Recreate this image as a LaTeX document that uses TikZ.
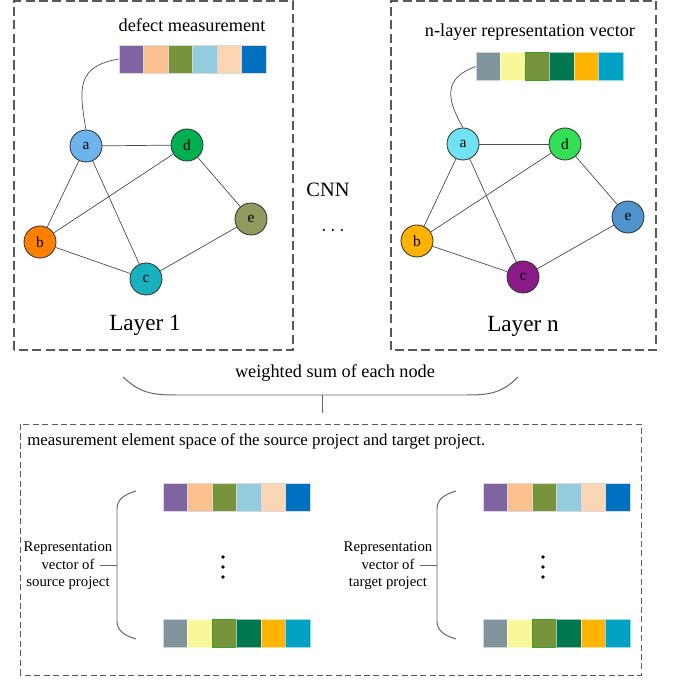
\documentclass[tikz,border=0pt]{standalone}
\usepackage{fontspec}
\setmainfont{Liberation Serif}
\usepackage{tikz}
\usepackage{xcolor}

% colours of the measurement vector
\definecolor{mpurple}{HTML}{8064A2}
\definecolor{mpeach}{HTML}{FAC090}
\definecolor{molive}{HTML}{77933C}
\definecolor{mblue}{HTML}{93CDDD}
\definecolor{mcream}{HTML}{FCD5B5}
\definecolor{mdeep}{HTML}{0070C0}
% colours of the representation vector
\definecolor{rgray}{HTML}{7F959B}
\definecolor{ryellow}{HTML}{F8F89A}
\definecolor{rolive}{HTML}{77933C}
\definecolor{rgreen}{HTML}{00774F}
\definecolor{ramber}{HTML}{FFB400}
\definecolor{rteal}{HTML}{00A2C3}
% node colours, layer 1 and layer n
\definecolor{la}{HTML}{6CB4EE}
\definecolor{lb}{HTML}{FF8000}
\definecolor{lc}{HTML}{17B2BE}
\definecolor{ld}{HTML}{00B050}
\definecolor{le}{HTML}{8F9A5E}
\definecolor{na}{HTML}{6FE3F3}
\definecolor{nb}{HTML}{FFB300}
\definecolor{nc}{HTML}{8B1A89}
\definecolor{nd}{HTML}{33E055}
\definecolor{ne}{HTML}{4F94CD}

\tikzset{
  gnode/.style={circle, draw=black!80, line width=0.6pt, minimum size=0.8cm, inner sep=0pt, font=\fontsize{11}{13}\selectfont},
  cell/.style={rectangle, draw=white!85!black, line width=0.4pt, minimum width=0.6125cm, minimum height=0.7cm, inner sep=0pt},
  edge/.style={draw=black!70, line width=0.5pt},
  layerbox/.style={draw=black!65, line width=0.9pt, dash pattern=on 6.5pt off 3pt},
  spacebox/.style={draw=black!65, line width=0.7pt, dash pattern=on 4.3pt off 2.4pt},
  brace/.style={draw=black!60, line width=0.7pt},
}

% #1 name prefix, #2 left x, #3 centre y
\newcommand{\measvec}[3]{%
  \foreach \col [count=\i] in {mpurple,mpeach,molive,mblue,mcream,mdeep}
    \node[cell, fill=\col] (#1\i) at ({#2+(\i-0.5)*0.6125},#3) {};}
\newcommand{\reprvec}[3]{%
  \foreach \col/\rim [count=\i] in {rgray/white,ryellow/white,rolive/green!70!black,rgreen/white,ramber/white,rteal/white}
    \node[cell, fill=\col, draw=\rim!60!\col] (#1\i) at ({#2+(\i-0.5)*0.6125},#3) {};}

\begin{document}
\begin{tikzpicture}
\useasboundingbox (0,0) rectangle (16.9,17.025);

% layer boxes
\draw[layerbox] (0.35,8.275) rectangle (7.325,17.0);
\draw[layerbox] (9.775,8.275) rectangle (16.4,17.0);

% layer 1
\node[font=\fontsize{13}{15}\selectfont] (mlabel) at (4.8,16.4) {defect measurement};
\measvec{m}{2.975}{15.55}
\node[gnode, fill=la] (la) at (2.15,13.375) {a};
\node[gnode, fill=ld] (ld) at (4.675,13.4) {d};
\node[gnode, fill=le] (le) at (6.275,11.55) {e};
\node[gnode, fill=lb] (lb) at (1.0,10.975) {b};
\node[gnode, fill=lc] (lc) at (3.65,10.05) {c};
\foreach \u/\v in {a/d,a/b,a/c,b/d,b/c,c/e,d/e}
  \draw[edge] (l\u) -- (l\v);
\draw[edge] (la.north) to[out=100, in=190, looseness=1.4] (m1.west);
\node[font=\fontsize{16.5}{19}\selectfont] (lone) at (3.625,8.9) {Layer 1};

% layer n
\node[font=\fontsize{13}{15}\selectfont] (rlabel) at (13.25,16.225) {n-layer representation vector};
\reprvec{r}{11.9}{15.3625}
\node[gnode, fill=na] (na) at (11.575,13.425) {a};
\node[gnode, fill=nd] (nd) at (14.125,13.425) {d};
\node[gnode, fill=ne] (ne) at (15.7,11.6) {e};
\node[gnode, fill=nb] (nb) at (10.425,11.0) {b};
\node[gnode, fill=nc] (nc) at (13.075,10.1) {c};
\foreach \u/\v in {a/d,a/b,a/c,b/d,b/c,c/e,d/e}
  \draw[edge] (n\u) -- (n\v);
\draw[edge] (na.north) to[out=120, in=200, looseness=1.4] (r1.west);
\node[font=\fontsize{16.5}{19}\selectfont] (lnn) at (13.075,8.875) {Layer n};

\node[font=\fontsize{14.5}{17}\selectfont] (cnn) at (8.2,12.275) {CNN};
\node[font=\fontsize{14}{17}\selectfont] (more) at (8.325,11.25) {$\cdots$};

% weighted sum
\node[font=\fontsize{13}{15}\selectfont] (wsum) at (8.375,7.7) {weighted sum of each node};
\coordinate (wl) at (3.075,7.6);
\coordinate (wr) at (12.95,7.6);
\coordinate (wtop) at (8.05,7.15);
\coordinate (wbot) at (8.05,6.7);
\draw[brace] (wl) .. controls (3.5,7.2) and (3.8,7.15) .. (4.4,7.15) -- (11.65,7.15)
  .. controls (12.25,7.15) and (12.55,7.2) .. (wr);
\draw[brace] (wtop) -- (wbot);

% element space
\draw[spacebox] (0.5,0.15) rectangle (16.025,6.425);
\node[anchor=west, font=\fontsize{12}{14}\selectfont] (space) at (0.56,6.0)
  {measurement element space of the source project and target project.};

\measvec{sm}{4.075}{4.5875}
\reprvec{sr}{4.075}{1.1875}
\measvec{tm}{12.075}{4.5875}
\reprvec{tr}{12.075}{1.1875}

\foreach \y in {3.1,2.85,2.6} {
  \fill (5.575,\y) circle (0.045);
  \fill (13.575,\y) circle (0.045);
}

% source bracket
\node[align=center, font=\fontsize{10.5}{12.5}\selectfont] (slab) at (1.7,2.875)
  {Representation\\vector of\\source project};
\coordinate (stick) at (2.5,2.9);
\coordinate (sbar) at (2.925,2.9);
\draw[brace] (3.4,4.75) .. controls (3.05,4.65) and (2.925,4.5) .. (2.925,4.3) -- (2.925,1.5)
  .. controls (2.925,1.3) and (3.05,1.15) .. (3.4,1.05);
\draw[brace] (stick) -- (sbar);

% target bracket
\node[align=center, font=\fontsize{10.5}{12.5}\selectfont] (tlab) at (9.7,2.875)
  {Representation\\vector of\\target project};
\coordinate (ttick) at (10.5,2.9);
\coordinate (tbar) at (10.925,2.9);
\draw[brace] (11.4,4.75) .. controls (11.05,4.65) and (10.925,4.5) .. (10.925,4.3) -- (10.925,1.5)
  .. controls (10.925,1.3) and (11.05,1.15) .. (11.4,1.05);
\draw[brace] (ttick) -- (tbar);
\end{tikzpicture}
\end{document}
